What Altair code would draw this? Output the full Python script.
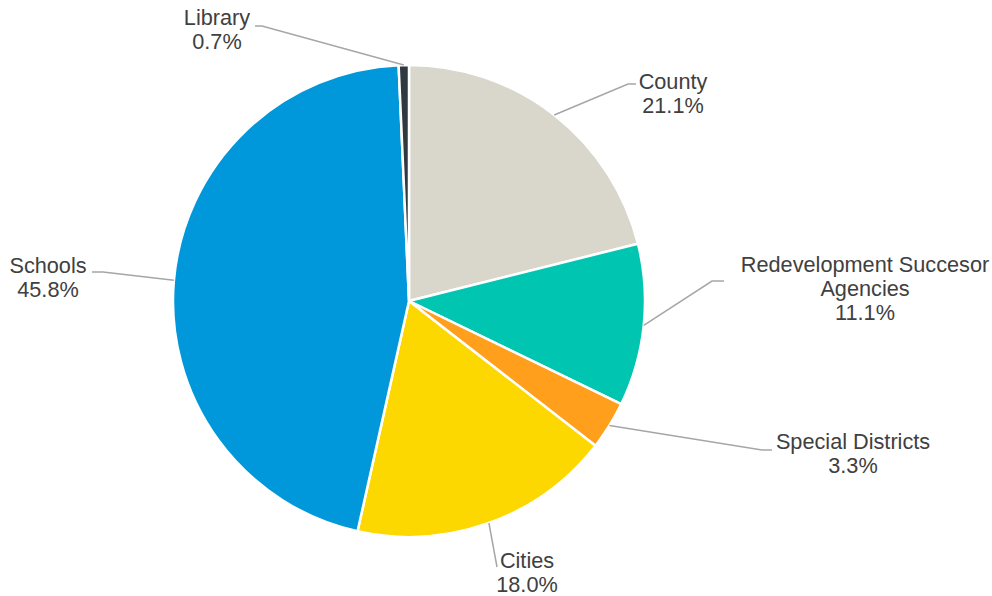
import math
import altair as alt
import pandas as pd

# ---------------- data ----------------
categories = ["County", "Redevelopment Succesor Agencies", "Special Districts",
              "Cities", "Schools", "Library"]
label_lines = [["County"], ["Redevelopment Succesor", "Agencies"], ["Special Districts"],
               ["Cities"], ["Schools"], ["Library"]]
shares = [21.1, 11.1, 3.3, 18.0, 45.8, 0.7]
colors = ["#D9D7CB", "#00C5B1", "#FF9F1C", "#FDD800", "#0098DA", "#2F3A40"]

# ---------------- layout ----------------
W, H = 992, 596
CX, CY, R = 409, 301, 236
LINE_H = 24
label_center_x = [673, 865, 853, 527, 48, 217]
label_first_y = [82, 265, 442, 561, 266, 18]
elbow_pts = [(628, 84), (712, 281), (762, 450), (497, 567), (103, 272), (262, 26)]
end_pts = [(636, 84), (724, 281), (772, 450), (497, 567), (92, 272), (255, 26)]

# ---------------- tables ----------------
pie_df = pd.DataFrame({"cat": categories, "share": shares, "idx": list(range(len(shares)))})

total = sum(shares)
line_rows = []
cum = 0.0
for i, v in enumerate(shares):
    mid = (cum + v / 2) / total * 2 * math.pi
    cum += v
    ex = CX + R * math.sin(mid)
    ey = CY - R * math.cos(mid)
    pts = [(ex, ey), elbow_pts[i], end_pts[i]]
    for k, (px, py) in enumerate(pts):
        line_rows.append({"cat": categories[i], "k": k, "x": px, "y": py})
line_df = pd.DataFrame(line_rows)

text_rows = []
for i, v in enumerate(shares):
    lines = label_lines[i] + [f"{v:.1f}%"]
    for j, t in enumerate(lines):
        text_rows.append({"cat": categories[i], "t": t,
                          "x": label_center_x[i], "y": label_first_y[i] + j * LINE_H})
text_df = pd.DataFrame(text_rows)

xs = alt.Scale(domain=[0, W], range=[0, W])
ys = alt.Scale(domain=[0, H], range=[0, H])

pie = alt.Chart(pie_df).mark_arc(radius=R, stroke="white", strokeWidth=2.5).encode(
    theta=alt.Theta("share:Q", stack=True),
    color=alt.Color("cat:N", scale=alt.Scale(domain=categories, range=colors), legend=None, sort=None),
    order=alt.Order("idx:Q"),
    x=alt.value(CX),
    y=alt.value(CY),
)

leaders = alt.Chart(line_df).mark_line(color="#A6A6A6", strokeWidth=1.5).encode(
    x=alt.X("x:Q", scale=xs, axis=None),
    y=alt.Y("y:Q", scale=ys, axis=None),
    detail="cat:N",
    order="k:Q",
)

labels = alt.Chart(text_df).mark_text(
    font="Liberation Sans", fontSize=21.7, color="#404040", align="center", baseline="middle"
).encode(
    x=alt.X("x:Q", scale=xs, axis=None),
    y=alt.Y("y:Q", scale=ys, axis=None),
    text="t:N",
)

chart = alt.layer(pie, leaders, labels).properties(
    width=W, height=H, autosize=alt.AutoSizeParams(type="none"), padding=0,
    background="white",
).configure_view(stroke=None)

chart.save("out.html", embed_options={"renderer": "svg", "actions": False})
